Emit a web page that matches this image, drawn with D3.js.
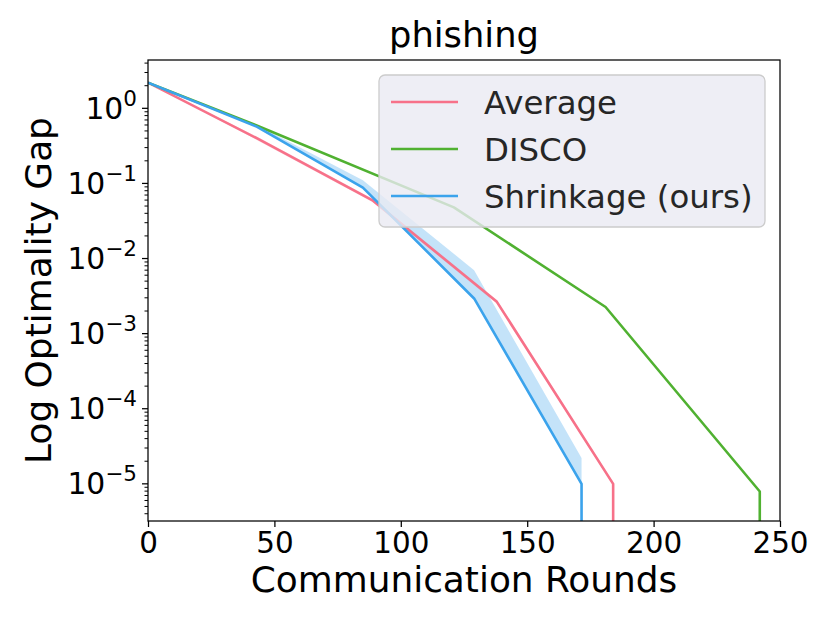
<!DOCTYPE html>
<html><head><meta charset="utf-8">
<script src="https://cdn.jsdelivr.net/npm/d3@7"></script>
<style>body{margin:0;background:#fff}svg{display:block}text{font-family:"DejaVu Sans",sans-serif}</style>
</head><body>
<svg id="c" width="830" height="623"></svg>
<script>
// ---- data ----
const title = "phishing";
const seriesNames = ["Average", "DISCO", "Shrinkage (ours)"];
const colors = ["#f77189", "#50b131", "#3ba3ec"];
const xTicks = [0, 50, 100, 150, 200, 250];
const yTicks = [0, -1, -2, -3, -4, -5];
// rounds / gap; the last point drops below the axis floor (converged)
const avgRounds = [0, 43, 89, 138, 184, 184];
const avgGap = [2.2, 0.40, 0.059, 2.65e-3, 1e-5, 1e-9];
const avgLow = [2.2, 0.38, 0.056, 2.5e-3, 9.5e-6, 1e-9];
const avgHigh = [2.2, 0.42, 0.062, 2.8e-3, 1.05e-5, 1e-9];
const discoRounds = [0, 43, 121, 181, 242, 242];
const discoGap = [2.2, 0.59, 0.048, 2.26e-3, 7.9e-6, 1e-9];
const shrRounds = [0, 43, 85, 129, 171.5, 171.5];
const shrGap = [2.2, 0.57, 0.088, 2.94e-3, 1e-5, 1e-9];
const shrHigh = [2.2, 0.60, 0.11, 7.0e-3, 2.2e-5, 1e-9];

// ---- layout ----
const svg = d3.select("#c");
const L = 148, R = 780, T = 60, B = 521;
const x = d3.scaleLinear().domain([0, 250]).range([L, R]);
const y = d3.scaleLog().domain([3.2e-6, 4.4]).range([B, T]);

svg.append("defs").append("clipPath").attr("id", "clip")
  .append("rect").attr("x", L).attr("y", T).attr("width", R - L).attr("height", B - T);

const plot = svg.append("g").attr("clip-path", "url(#clip)");

function pts(r, v) { return r.map((d, i) => [d, v[i]]); }
const line = d3.line().x(d => x(d[0])).y(d => y(d[1]));
const area = d3.area().x(d => x(d[0])).y0(d => y(d[1])).y1(d => y(d[2]));

// bands
plot.append("path")
  .datum(avgRounds.map((d, i) => [d, avgLow[i], avgHigh[i]]))
  .attr("d", area).attr("fill", colors[0]).attr("opacity", 0.25);
plot.append("path")
  .datum(shrRounds.map((d, i) => [d, shrGap[i], shrHigh[i]]))
  .attr("d", area).attr("fill", colors[2]).attr("opacity", 0.3);

// lines
[[avgRounds, avgGap], [discoRounds, discoGap], [shrRounds, shrGap]].forEach((s, i) => {
  plot.append("path").datum(pts(s[0], s[1])).attr("d", line)
    .attr("fill", "none").attr("stroke", colors[i]).attr("stroke-width", 2.6)
    .attr("stroke-linejoin", "round");
});

// frame
svg.append("rect").attr("x", L).attr("y", T).attr("width", R - L).attr("height", B - T)
  .attr("fill", "none").attr("stroke", "#000").attr("stroke-width", 1.25);

// x axis
const xa = svg.append("g").attr("transform", `translate(0,${B})`)
  .call(d3.axisBottom(x).tickValues(xTicks).tickFormat(d3.format("d")).tickSize(6).tickPadding(5));
xa.select(".domain").remove();
xa.selectAll("line").attr("stroke", "#000").attr("stroke-width", 1.25);
xa.selectAll("text").attr("font-size", 29.4).attr("fill", "#000").attr("font-family", "DejaVu Sans");

// y axis major
const ya = svg.append("g").attr("transform", `translate(${L},0)`);
yTicks.forEach(e => {
  const yy = y(Math.pow(10, e));
  ya.append("line").attr("x1", 0).attr("x2", -6).attr("y1", yy).attr("y2", yy)
    .attr("stroke", "#000").attr("stroke-width", 1.25);
  const t = ya.append("text").attr("x", -11).attr("y", yy + 10.5).attr("text-anchor", "end")
    .attr("font-size", 29.8).attr("fill", "#000");
  t.append("tspan").text("10");
  t.append("tspan").attr("dy", -13).attr("font-size", 21.5).text(e === 0 ? "0" : "\u2212" + (-e));
});
// minor ticks
const minor = [];
for (let e = -6; e <= 0; e++) for (let m = 2; m <= 9; m++) {
  const v = m * Math.pow(10, e);
  if (v >= y.domain()[0] && v <= y.domain()[1]) minor.push(v);
}
minor.forEach(v => {
  const yy = y(v);
  ya.append("line").attr("x1", 0).attr("x2", -3.5).attr("y1", yy).attr("y2", yy)
    .attr("stroke", "#000").attr("stroke-width", 1);
});

// labels
svg.append("text").attr("x", (L + R) / 2).attr("y", 592).attr("text-anchor", "middle")
  .attr("font-size", 35.9).attr("fill", "#000").text("Communication Rounds");
svg.append("text").attr("transform", `translate(51,${(T + B) / 2}) rotate(-90)`)
  .attr("text-anchor", "middle").attr("font-size", 35.9).attr("fill", "#000").text("Log Optimality Gap");
svg.append("text").attr("x", (L + R) / 2).attr("y", 47).attr("text-anchor", "middle")
  .attr("font-size", 35.3).attr("fill", "#000").text(title);

// legend
const lg = svg.append("g");
lg.append("rect").attr("x", 379).attr("y", 75).attr("width", 386).attr("height", 152)
  .attr("rx", 6).attr("fill", "#eaeaf2").attr("fill-opacity", 0.8)
  .attr("stroke", "#cccccc").attr("stroke-width", 1.3);
seriesNames.forEach((n, i) => {
  const yy = 102 + i * 47;
  lg.append("line").attr("x1", 391).attr("x2", 458).attr("y1", yy).attr("y2", yy)
    .attr("stroke", colors[i]).attr("stroke-width", 2.6);
  lg.append("text").attr("x", 484).attr("y", yy + 11.5).attr("font-size", 32.4)
    .attr("fill", "#262626").text(n);
});
</script>
</body></html>
